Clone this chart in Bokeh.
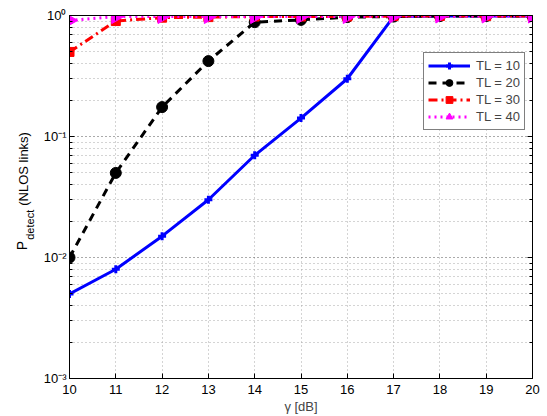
import math
from bokeh.plotting import figure
from bokeh.layouts import row
from bokeh.models import (FixedTicker, LinearAxis, LogAxis, Legend, LegendItem,
                          CustomJSTickFormatter)
from bokeh.core.properties import value
from bokeh.embed import file_html
from bokeh.resources import INLINE

gamma = [10, 11, 12, 13, 14, 15, 16, 17, 18, 19, 20]
tl10 = [0.005, 0.008, 0.015, 0.030, 0.070, 0.142, 0.30, 0.98, 0.99, 0.99, 0.99]
tl20 = [0.010, 0.050, 0.175, 0.42, 0.88, 0.92, 0.97, 0.98, 0.99, 0.99, 0.99]
tl30 = [0.50, 0.90, 0.96, 0.97, 0.98, 0.98, 0.98, 0.99, 0.99, 0.99, 0.99]
tl40 = [0.91, 0.98, 0.98, 0.98, 0.98, 0.98, 0.98, 0.99, 0.99, 0.99, 0.99]
labels = ["TL = 10", "TL = 20", "TL = 30", "TL = 40"]
x_ticks = list(range(10, 21))
y_ticks = [1e-3, 1e-2, 1e-1, 1.0]
y_minor = [k * 10.0 ** d for d in (-3, -2, -1) for k in range(2, 10)]
ylabel_parts = ["P", "detect", "(NLOS links)"]

FONT = "Liberation Sans"
W, H = 547, 416
LAB_W = 36

p = figure(width=W - LAB_W, height=H, output_backend="svg", toolbar_location=None,
           y_axis_type="log", x_range=(10, 20), y_range=(1e-3, 1.0),
           min_border_left=69 - LAB_W, min_border_right=15, min_border_top=15,
           min_border_bottom=36, background_fill_color="white",
           border_fill_color="white", outline_line_color="black")

xt = FixedTicker(ticks=x_ticks, minor_ticks=[])
yt = FixedTicker(ticks=y_ticks, minor_ticks=y_minor)
fmt = CustomJSTickFormatter(code="""
const e = Math.round(Math.log10(tick));
const sup = {"0":"\u2070","1":"\u00b9","2":"\u00b2","3":"\u00b3","-":"\u207b"};
return "10" + String(e).split("").map(c => sup[c]).join("");
""")
blank = CustomJSTickFormatter(code="return '';")

def style_axis(ax):
    ax.major_tick_in = 5
    ax.major_tick_out = 0
    ax.minor_tick_in = 3
    ax.minor_tick_out = 0
    ax.axis_line_color = "black"
    ax.major_tick_line_color = "black"
    ax.minor_tick_line_color = "black"
    ax.major_label_text_font = FONT
    ax.major_label_text_font_size = "13px"
    ax.major_label_text_color = "black"

xa = p.xaxis[0]
xa.ticker = xt
style_axis(xa)
xa.major_label_standoff = 6
xa.axis_label = "\u03b3 [dB]"
xa.axis_label_text_font = FONT
xa.axis_label_text_font_size = "13px"
xa.axis_label_text_font_style = "normal"
xa.axis_label_standoff = 2

ya = p.yaxis[0]
ya.ticker = yt
ya.formatter = fmt
style_axis(ya)
ya.major_label_standoff = 3

top = LinearAxis(ticker=xt, formatter=blank)
style_axis(top)
top.major_label_standoff = 0
p.add_layout(top, "above")
right = LogAxis(ticker=yt, formatter=blank)
style_axis(right)
right.major_label_standoff = 0
p.add_layout(right, "right")

p.xgrid.ticker = xt
p.xgrid.grid_line_color = "#a8a8a8"
p.xgrid.grid_line_dash = "1 3"
p.ygrid.ticker = yt
p.ygrid.grid_line_color = "#555555"
p.ygrid.grid_line_dash = "1 3"
p.ygrid.minor_grid_line_color = "#a8a8a8"
p.ygrid.minor_grid_line_dash = "1 3"

r1l = p.line(gamma, tl10, line_color="blue", line_width=3)
r1m = p.scatter(gamma, tl10, marker="cross", size=8, line_color="blue", line_width=3)
r2l = p.line(gamma, tl20, line_color="black", line_width=3, line_dash="8 6")
r2m = p.scatter(gamma, tl20, marker="circle", size=11, fill_color="black", line_color="black")
r3l = p.line(gamma, tl30, line_color="red", line_width=3, line_dash="9 4 2 4")
r3m = p.scatter(gamma, tl30, marker="square", size=9, fill_color="red", line_color="red")
r4l = p.line(gamma, tl40, line_color="magenta", line_width=3, line_dash="2 4")
r4m = p.scatter(gamma, tl40, marker="triangle", angle=-math.pi / 2, size=14,
                fill_color="magenta", line_color="magenta")

legend = Legend(items=[LegendItem(label=labels[0], renderers=[r1l, r1m]),
                       LegendItem(label=labels[1], renderers=[r2l, r2m]),
                       LegendItem(label=labels[2], renderers=[r3l, r3m]),
                       LegendItem(label=labels[3], renderers=[r4l, r4m])],
                location=(354, 248))
legend.border_line_color = "black"
legend.border_line_width = 1
legend.background_fill_color = "white"
legend.background_fill_alpha = 1
legend.padding = 4
legend.spacing = 0
legend.glyph_width = 42
legend.glyph_height = 17
legend.label_height = 17
legend.label_standoff = 6
legend.label_text_font = FONT
legend.label_text_font_size = "13px"
legend.margin = 0
p.add_layout(legend, "center")

# y axis label: narrow panel with rotated text pieces (P with subscript "detect")
lab = figure(width=LAB_W, height=H, output_backend="svg", toolbar_location=None,
             x_range=(0, LAB_W), y_range=(0, H), x_axis_type=None, y_axis_type=None,
             min_border=0, outline_line_color=None, background_fill_color="white",
             border_fill_color="white")
lab.grid.visible = False
pos = [(21.5, H - 269, "14px"), (29.0, H - 257, "11px"), (22.5, H - 218, "13px")]
for txt, (px, py, fs) in zip(ylabel_parts, pos):
    lab.text(x=[px], y=[py], text=[txt], angle=math.pi / 2, text_align="left",
             text_baseline="middle", text_font=value(FONT), text_font_size=fs,
             text_color="black")

layout = row(lab, p, spacing=0)
open("out.html", "w").write(file_html(layout, INLINE))
